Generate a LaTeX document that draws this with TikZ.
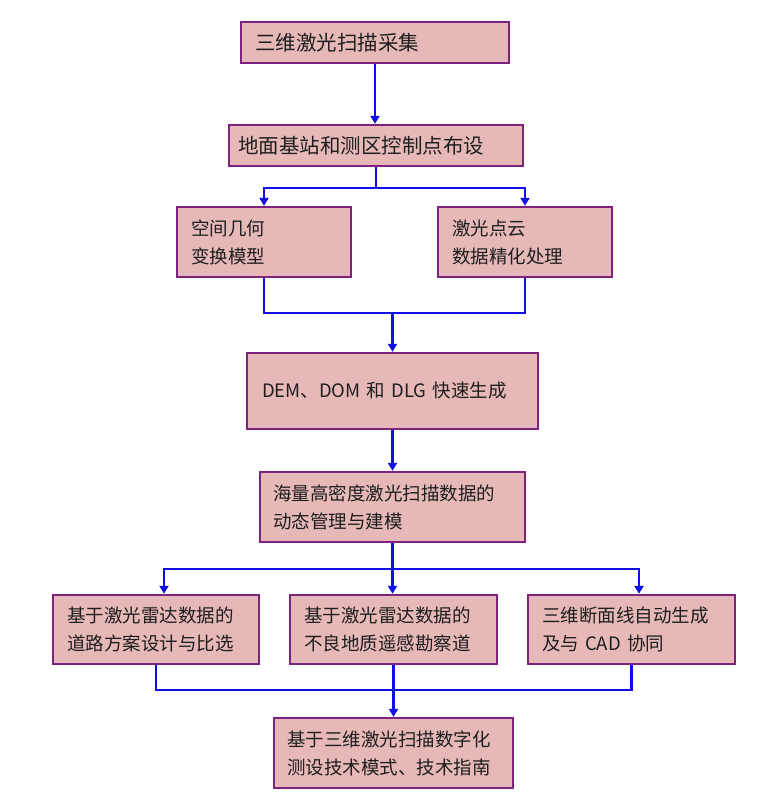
\documentclass[tikz,border=0pt]{standalone}
\usepackage{fontspec}
\setmainfont{Noto Sans CJK SC}
\usetikzlibrary{arrows.meta,calc}
\definecolor{boxfill}{RGB}{230,185,184}
\definecolor{boxline}{RGB}{125,35,125}
\definecolor{linkblue}{RGB}{15,15,230}
\definecolor{txt}{RGB}{30,30,30}
\begin{document}
\begin{tikzpicture}[x=1pt,y=-1pt,
  box/.style={draw=boxline,fill=boxfill,line width=2.4pt,inner xsep=14pt,inner ysep=0pt,
    align=left,text=txt,font=\fontsize{18.5}{28}\selectfont,anchor=center},
  bigtext/.style={font=\fontsize{20.5}{28}\selectfont},
  link/.style={draw=linkblue,line width=2.3pt},
  arr/.style={link,-{Triangle[width=9pt,length=8pt]}}]
\useasboundingbox[fill=white] (0,0) rectangle (768,806);
% boxes
\node[box,bigtext,minimum width=268pt,text width=240pt,minimum height=41pt] (b1) at (375,42.5) {三维激光扫描采集};
\node[box,bigtext,inner xsep=9pt,minimum width=294pt,text width=276pt,minimum height=41pt] (b2) at (376,145.5) {地面基站和测区控制点布设};
\node[box,minimum width=174pt,text width=146pt,minimum height=70pt] (b3l) at (264,242) {空间几何\\变换模型};
\node[box,minimum width=174pt,text width=146pt,minimum height=70pt] (b3r) at (525,242) {激光点云\\数据精化处理};
\node[box,inner xsep=15pt,minimum width=291pt,text width=261pt,minimum height=76pt] (b4) at (392.5,391) {DEM、DOM 和 DLG 快速生成};
\node[box,inner xsep=13pt,minimum width=265pt,text width=239pt,minimum height=70pt] (b5) at (392.5,507) {海量高密度激光扫描数据的\\动态管理与建模};
\node[box,minimum width=206pt,text width=178pt,minimum height=69pt] (b6l) at (156,629.5) {基于激光雷达数据的\\道路方案设计与比选};
\node[box,minimum width=207pt,text width=179pt,minimum height=69pt] (b6m) at (393.5,629.5) {基于激光雷达数据的\\不良地质遥感勘察道};
\node[box,minimum width=207pt,text width=179pt,minimum height=69pt] (b6r) at (631.5,629.5) {三维断面线自动生成\\及与 CAD 协同};
\node[box,inner xsep=13pt,minimum width=239pt,text width=213pt,minimum height=70pt] (b7) at (393.5,753) {基于三维激光扫描数字化\\测设技术模式、技术指南};
% connectors
\draw[arr] (b1.south) -- (b1.south |- b2.north);
\coordinate (f1) at ($(b2.south)+(0,21)$);
\draw[arr] (b2.south) -- (f1) -| (b3l.north);
\draw[arr] (f1) -| (b3r.north);
\coordinate (m1) at ($(b4.north)-(0,39)$);
\draw[link] (b3l.south) |- (b3r.south |- m1) -- (b3r.south);
\draw[arr] (m1) -- (b4.north);
\draw[arr] (b4.south) -- (b5.north);
\coordinate (f2) at ($(b5.south)+(0,26)$);
\draw[arr] (b5.south) -- (f2) -| ([xshift=8pt]b6l.north);
\draw[arr] (f2) -| ([xshift=7.5pt]b6r.north);
\draw[arr] (f2) -- (f2 |- b6m.north);
\coordinate (m2) at ($(b7.north)-(0,27)$);
\draw[link] (b6l.south) |- (b6r.south |- m2) -- (b6r.south);
\draw[arr] (b6m.south) -- (b6m.south |- b7.north);
\end{tikzpicture}
\end{document}
